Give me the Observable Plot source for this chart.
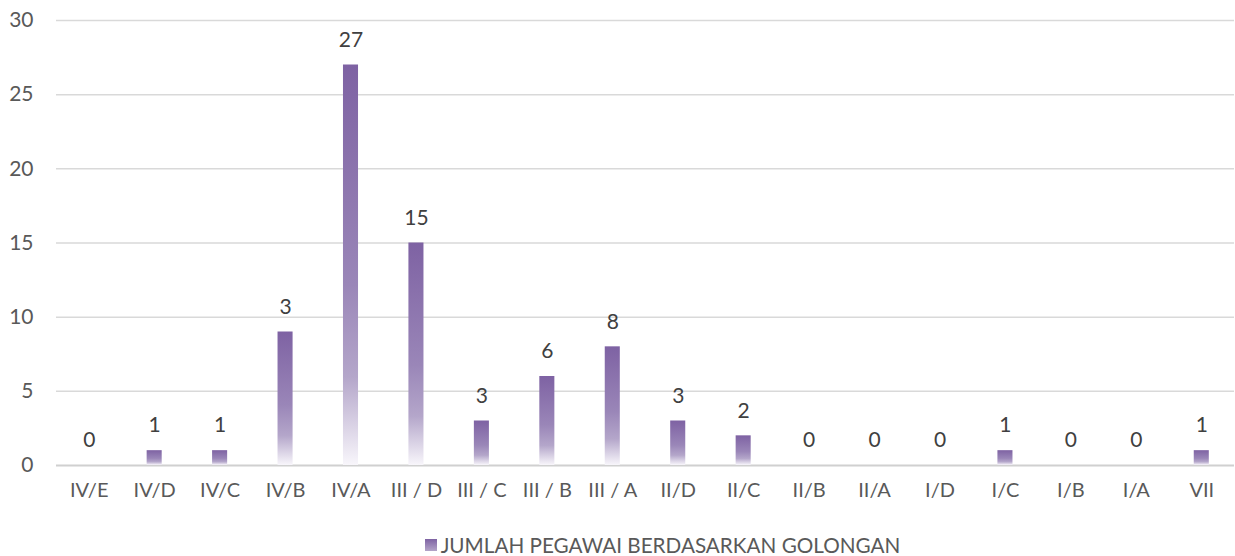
<!DOCTYPE html>
<html>
<head>
<meta charset="utf-8">
<script src="https://cdn.jsdelivr.net/npm/d3@7"></script>
<script src="https://cdn.jsdelivr.net/npm/@observablehq/plot@0.6"></script>
<style>
  body { margin: 0; background: #fff; font-family: Lato, "Open Sans", sans-serif; }
  #legend { display: flex; justify-content: center; align-items: center; height: 50px; color: #595959; font-size: 20.7px; margin-left: 90px; }
  #legend .sw { width: 12px; height: 12px; margin-right: 4px; background: linear-gradient(#7e62a3, #b3a4c8); }
</style>
</head>
<body>
<div id="chart"></div>
<div id="legend"><span class="sw"></span><span id="legendText"></span></div>
<script>
const categories = ["IV/E","IV/D","IV/C","IV/B","IV/A","III / D","III / C","III / B","III / A","II/D","II/C","II/B","II/A","I/D","I/C","I/B","I/A","VII"];
const values = [0,1,1,9,27,15,3,6,8,3,2,0,0,0,1,0,0,1];
const labels = ["0","1","1","3","27","15","3","6","8","3","2","0","0","0","1","0","0","1"];
const yTicks = [0,5,10,15,20,25,30];
const seriesName = "JUMLAH PEGAWAI BERDASARKAN GOLONGAN";
document.getElementById("legendText").textContent = seriesName;

const data = categories.map((c, i) => ({cat: c, value: values[i], label: labels[i]}));

const chart = Plot.plot({
  width: 1235,
  height: 520,
  marginLeft: 56,
  marginRight: 1,
  marginTop: 20,
  marginBottom: 55,
  style: {fontFamily: "Lato, 'Open Sans', sans-serif", color: "#595959", background: "#fff"},
  x: {domain: categories, paddingInner: 0.77, paddingOuter: 0.385, round: false, label: null, axis: null},
  y: {domain: [0, 30], label: null, axis: null},
  marks: [
    Plot.ruleY(yTicks.filter(d => d > 0), {stroke: "#d9d9d9", strokeWidth: 1.5}),
    Plot.ruleY([0], {stroke: "#d0d0d0", strokeWidth: 2}),
    Plot.barY(data, {x: "cat", y: "value", fill: "url(#barGrad)"}),
    Plot.text(data, {x: "cat", y: "value", text: "label", dy: -25, fontSize: 21, fill: "#404040"}),
    // x tick labels
    Plot.text(categories, {x: d => d, frameAnchor: "bottom", dy: 31, text: d => d, fontSize: 20, fill: "#595959"}),
    // y tick labels
    Plot.text(yTicks, {y: d => d, frameAnchor: "left", dx: -23, textAnchor: "end", text: d => String(d), fontSize: 21, fill: "#595959"})
  ]
});

const ns = "http://www.w3.org/2000/svg";
const defs = document.createElementNS(ns, "defs");
defs.innerHTML = `<linearGradient id="barGrad" x1="0" y1="0" x2="0" y2="1">
  <stop offset="0" stop-color="#7e62a3"/>
  <stop offset="0.55" stop-color="#9a86b8"/>
  <stop offset="0.78" stop-color="#b4a6ca"/>
  <stop offset="1" stop-color="#f8f6fb"/>
</linearGradient>`;
chart.insertBefore(defs, chart.firstChild);
document.getElementById("chart").appendChild(chart);
</script>
</body>
</html>
